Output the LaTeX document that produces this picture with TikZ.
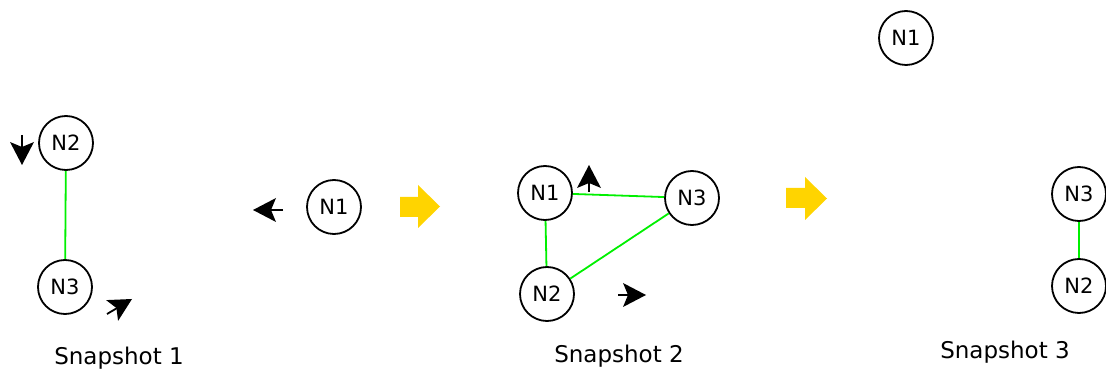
\documentclass[tikz,border=0pt]{standalone}
\usepackage{fontspec}
\setmainfont{DejaVu Sans}
\definecolor{linkgreen}{RGB}{0,240,0}
\definecolor{blockyellow}{RGB}{255,212,0}
\tikzset{
  netnode/.style={circle, draw=black, line width=1.8pt, minimum size=54pt, inner sep=0pt, font=\fontsize{21}{23}\selectfont},
  link/.style={draw=linkgreen, line width=1.8pt},
  shaft/.style={line width=1.8pt},
  headfill/.style={fill=black, draw=none},
  blockarrow/.style={fill=blockyellow, draw=none},
  snaplabel/.style={font=\fontsize{23}{25}\selectfont, inner sep=0pt}
}
% arrowhead with tip at given point, pointing at canvas angle #3
\newcommand{\moveHead}[3]{%
  \fill[headfill, shift={(#1,#2)}, rotate=#3] (0,0) -- (-23,-12) -- (-18,0) -- (-23,12) -- cycle;}
\begin{document}
\begin{tikzpicture}[x=1pt, y=-1pt]
\useasboundingbox (0,0) rectangle (1106,371);
% Snapshot 1
\node[netnode] (a2) at (66,143) {N2};
\node[netnode] (a3) at (65,287) {N3};
\node[netnode] (a1) at (334,207) {N1};
\draw[link] (a2) -- (a3);
\coordinate (m1s) at (22,135); \coordinate (m1e) at (22,149);
\draw[shaft] (m1s) -- (m1e); \moveHead{22}{165}{-90}
\coordinate (m2s) at (107,314); \coordinate (m2e) at (118,307.5);
\draw[shaft] (m2s) -- (m2e); \moveHead{132}{299}{30}
\coordinate (m3s) at (283,210); \coordinate (m3e) at (270,210);
\draw[shaft] (m3s) -- (m3e); \moveHead{253}{210}{180}
\node[snaplabel] (l1) at (119,358) {Snapshot 1};
% block arrow 1
\fill[blockarrow] (400,197) -- (418,197) -- (418,185) -- (440,206.5) -- (418,228) -- (418,217) -- (400,217) -- cycle;
% Snapshot 2
\node[netnode] (b1) at (545,193) {N1};
\node[netnode] (b3) at (692,198) {N3};
\node[netnode] (b2) at (547,294) {N2};
\draw[link] (b1) -- (b3);
\draw[link] (b1) -- (b2);
\draw[link] (b2) -- (b3);
\coordinate (m4s) at (589,192); \coordinate (m4e) at (589,181);
\draw[shaft] (m4s) -- (m4e); \moveHead{589}{165}{90}
\coordinate (m5s) at (618,295); \coordinate (m5e) at (630,295);
\draw[shaft] (m5s) -- (m5e); \moveHead{646}{295}{0}
\node[snaplabel] (l2) at (619,356) {Snapshot 2};
% block arrow 2
\fill[blockarrow] (786,188) -- (805,188) -- (805,177) -- (827,198.5) -- (805,220) -- (805,208) -- (786,208) -- cycle;
% Snapshot 3
\node[netnode] (c1) at (906,38) {N1};
\node[netnode] (c3) at (1079,194) {N3};
\node[netnode] (c2) at (1079,286) {N2};
\draw[link] (c3) -- (c2);
\node[snaplabel] (l3) at (1005,352) {Snapshot 3};
\end{tikzpicture}
\end{document}
